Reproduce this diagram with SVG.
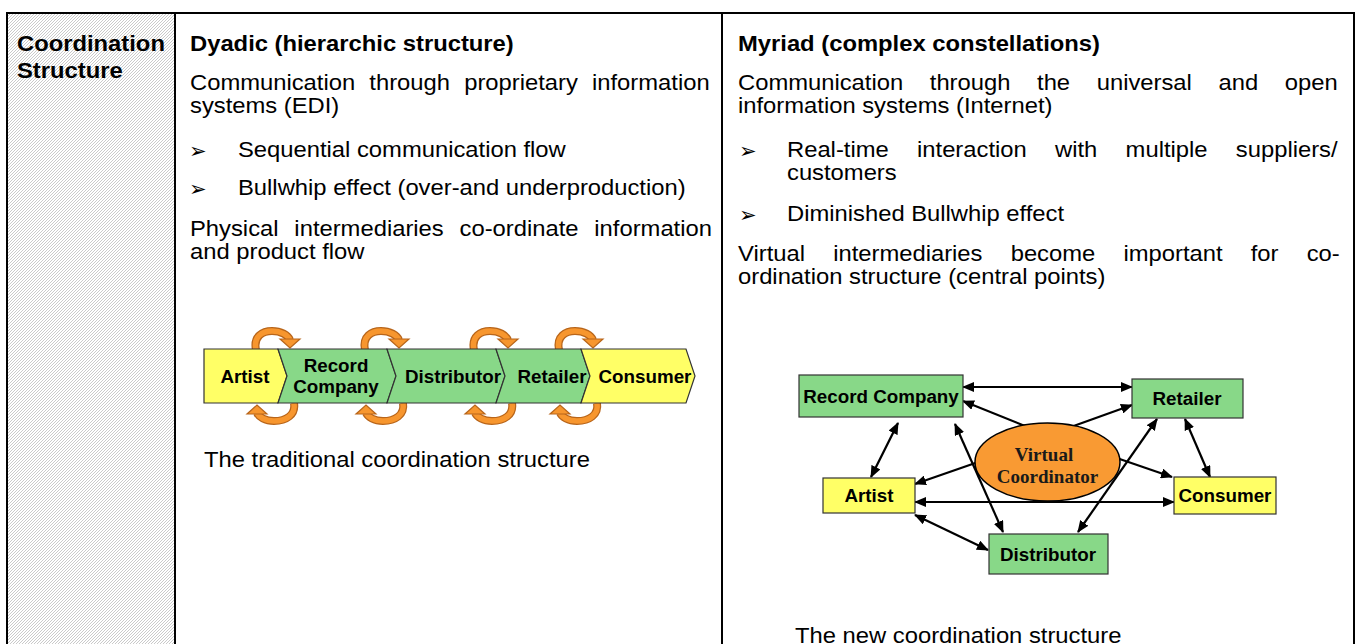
<svg xmlns="http://www.w3.org/2000/svg" width="1358" height="644" viewBox="0 0 1358 644">
  <defs>
    <style>
      .t { font-family: "Liberation Sans", Arial, sans-serif; font-size: 21.5px; fill: #000; }
      .tb { font-family: "Liberation Sans", Arial, sans-serif; font-size: 21.5px; font-weight: bold; fill: #000; }
      .bul { font-family: "DejaVu Sans", sans-serif; font-size: 21px; fill: #000; }
      .lbl { font-family: "Liberation Sans", Arial, sans-serif; font-size: 18.8px; font-weight: bold; fill: #000; text-anchor: middle; }
      .vc { font-family: "Liberation Serif", "Times New Roman", serif; font-size: 19px; font-weight: bold; text-anchor: middle; fill: #1a1a1a; }
      .grid { stroke: #000; stroke-width: 2; fill: none; }
      .green { fill: #88d888; stroke: #333; stroke-width: 1.2; }
      .yellow { fill: #ffff66; stroke: #333; stroke-width: 1.2; }
      .conn { stroke: #000; stroke-width: 2.2; fill: none; }
      .loopEdge { stroke: #b8651a; stroke-width: 8; fill: none; }
      .loopBody { stroke: #f7962e; stroke-width: 5.5; fill: none; }
      .loopHead { fill: #f7962e; stroke: #b8651a; stroke-width: 1.2; }
    </style>
    <pattern id="hatch" width="3" height="3" patternUnits="userSpaceOnUse">
      <rect width="3" height="3" fill="#fff"/>
      <path d="M-1,1 L1,-1 M0,3 L3,0 M2,4 L4,2" stroke="#c4c4c4" stroke-width="0.9"/>
    </pattern>
    <marker id="arr" viewBox="0 0 12 10" refX="11" refY="5" markerWidth="12" markerHeight="10" markerUnits="userSpaceOnUse" orient="auto-start-reverse">
      <path d="M0,0 L12,5 L0,10 Z" fill="#000"/>
    </marker>
    <!-- orange loop arrow above a chevron joint, drawn relative to the joint's top corner -->
    <g id="loopTop">
      <path class="loopEdge" d="M-22,350 C-25,336 -15,331 -6,331 C3,331 10,335 12,340"/>
      <path class="loopBody" d="M-22,350 C-25,336 -15,331 -6,331 C3,331 10,335 12,340"/>
      <polygon class="loopHead" points="2,339 22,339 12,348"/>
    </g>
    <!-- orange loop arrow below a chevron joint -->
    <g id="loopBottom">
      <path class="loopEdge" d="M16,403 C18,415 8,421 -4,421 C-13,421 -19,417 -21,413"/>
      <path class="loopBody" d="M16,403 C18,415 8,421 -4,421 C-13,421 -19,417 -21,413"/>
      <polygon class="loopHead" points="-31,414 -11,414 -21,405"/>
    </g>
  </defs>

  <rect width="1358" height="644" fill="#fff"/>

  <!-- table -->
  <g id="table">
    <rect x="8" y="14" width="166" height="630" fill="url(#hatch)"/>
    <path class="grid" d="M7,13 H1355 M7,12 V644 M175,12 V644 M722,12 V644 M1354,12 V644"/>
  </g>

  <!-- row header -->
  <g id="row-header">
    <text class="tb" transform="translate(17,51) scale(1.107,1)">Coordination</text>
    <text class="tb" transform="translate(17,78) scale(1.107,1)">Structure</text>
  </g>

  <!-- dyadic column text -->
  <g id="dyadic-text">
    <text class="tb" transform="translate(190,51) scale(1.107,1)">Dyadic (hierarchic structure)</text>
    <text class="t" transform="translate(190,90) scale(1.107,1)" word-spacing="6.84">Communication through proprietary information</text>
    <text class="t" transform="translate(190,113) scale(1.107,1)">systems (EDI)</text>
    <text class="bul" x="189" y="158">➢</text>
    <text class="t" transform="translate(238,157) scale(1.107,1)">Sequential communication flow</text>
    <text class="bul" x="189" y="196">➢</text>
    <text class="t" transform="translate(238,195) scale(1.107,1)">Bullwhip effect (over-and underproduction)</text>
    <text class="t" transform="translate(190,236) scale(1.107,1)" word-spacing="8.34">Physical intermediaries co-ordinate information</text>
    <text class="t" transform="translate(190,259) scale(1.107,1)">and product flow</text>
    <text class="t" transform="translate(204,467) scale(1.107,1)">The traditional coordination structure</text>
  </g>

  <!-- myriad column text -->
  <g id="myriad-text">
    <text class="tb" transform="translate(738,51) scale(1.107,1)">Myriad (complex constellations)</text>
    <text class="t" transform="translate(738,90) scale(1.107,1)" word-spacing="18.07">Communication through the universal and open</text>
    <text class="t" transform="translate(738,113) scale(1.107,1)">information systems (Internet)</text>
    <text class="bul" x="739" y="158">➢</text>
    <text class="t" transform="translate(787,157) scale(1.107,1)" word-spacing="19.6">Real-time interaction with multiple suppliers/</text>
    <text class="t" transform="translate(787,180) scale(1.107,1)">customers</text>
    <text class="bul" x="739" y="222">➢</text>
    <text class="t" transform="translate(787,221) scale(1.107,1)">Diminished Bullwhip effect</text>
    <text class="t" transform="translate(738,261) scale(1.107,1)" word-spacing="19.5">Virtual intermediaries become important for co-</text>
    <text class="t" transform="translate(738,284) scale(1.107,1)">ordination structure (central points)</text>
    <text class="t" transform="translate(795,643) scale(1.107,1)">The new coordination structure</text>
  </g>

  <!-- traditional chain: feedback loops between neighbouring stages -->
  <g id="chain-loops">
    <use href="#loopTop" transform="translate(278,0)"/>
    <use href="#loopTop" transform="translate(387,0)"/>
    <use href="#loopTop" transform="translate(496,0)"/>
    <use href="#loopTop" transform="translate(581,0)"/>
    <use href="#loopBottom" transform="translate(278,0)"/>
    <use href="#loopBottom" transform="translate(387,0)"/>
    <use href="#loopBottom" transform="translate(496,0)"/>
    <use href="#loopBottom" transform="translate(581,0)"/>
  </g>

  <g id="chain-artist">
    <path class="yellow" d="M204,349 L278,349 L287,376 L278,403 L204,403 Z"/>
    <text class="lbl" x="245" y="383">Artist</text>
  </g>
  <g id="chain-record-company">
    <path class="green" d="M278,349 L387,349 L396,376 L387,403 L278,403 L287,376 Z"/>
    <text class="lbl" x="336" y="372">Record</text>
    <text class="lbl" x="336" y="393">Company</text>
  </g>
  <g id="chain-distributor">
    <path class="green" d="M387,349 L496,349 L505,376 L496,403 L387,403 L396,376 Z"/>
    <text class="lbl" x="453" y="383">Distributor</text>
  </g>
  <g id="chain-retailer">
    <path class="green" d="M496,349 L581,349 L590,376 L581,403 L496,403 L505,376 Z"/>
    <text class="lbl" x="552" y="383">Retailer</text>
  </g>
  <g id="chain-consumer">
    <path class="yellow" d="M581,349 L686,349 L695,376 L686,403 L581,403 L590,376 Z"/>
    <text class="lbl" x="645" y="383">Consumer</text>
  </g>

  <!-- network connectors -->
  <g id="connectors">
    <line class="conn" x1="963" y1="387" x2="1132" y2="387" marker-start="url(#arr)" marker-end="url(#arr)"/>
    <line class="conn" x1="1030" y1="428" x2="963" y2="401" marker-end="url(#arr)"/>
    <line class="conn" x1="1068" y1="428" x2="1132" y2="405" marker-end="url(#arr)"/>
    <line class="conn" x1="898" y1="423" x2="871" y2="477" marker-start="url(#arr)" marker-end="url(#arr)"/>
    <line class="conn" x1="955" y1="424" x2="1003" y2="532" marker-start="url(#arr)" marker-end="url(#arr)"/>
    <line class="conn" x1="1157" y1="419" x2="1078" y2="532" marker-start="url(#arr)" marker-end="url(#arr)"/>
    <line class="conn" x1="1185" y1="419" x2="1210" y2="477" marker-start="url(#arr)" marker-end="url(#arr)"/>
    <line class="conn" x1="1108" y1="455" x2="1172" y2="477" marker-end="url(#arr)"/>
    <line class="conn" x1="984" y1="460" x2="915" y2="484" marker-end="url(#arr)"/>
    <line class="conn" x1="915" y1="502" x2="1174" y2="502" marker-start="url(#arr)" marker-end="url(#arr)"/>
    <line class="conn" x1="915" y1="515" x2="988" y2="550" marker-start="url(#arr)" marker-end="url(#arr)"/>
  </g>

  <!-- network nodes -->
  <g id="node-record-company">
    <rect class="green" x="799" y="375" width="164" height="42"/>
    <text class="lbl" x="881" y="403">Record Company</text>
  </g>
  <g id="node-retailer">
    <rect class="green" x="1132" y="379" width="111" height="39"/>
    <text class="lbl" x="1187" y="405">Retailer</text>
  </g>
  <g id="node-artist">
    <rect class="yellow" x="823" y="478" width="92" height="35"/>
    <text class="lbl" x="869" y="502">Artist</text>
  </g>
  <g id="node-consumer">
    <rect class="yellow" x="1174" y="477" width="102" height="37"/>
    <text class="lbl" x="1225" y="502">Consumer</text>
  </g>
  <g id="node-distributor">
    <rect class="green" x="989" y="534" width="119" height="40"/>
    <text class="lbl" x="1048" y="561">Distributor</text>
  </g>
  <g id="node-virtual-coordinator">
    <ellipse cx="1047.5" cy="462" rx="72.5" ry="39" fill="#f99a33" stroke="#000" stroke-width="1.5"/>
    <text class="vc" x="1044" y="461">Virtual</text>
    <text class="vc" x="1047.5" y="483">Coordinator</text>
  </g>
</svg>
